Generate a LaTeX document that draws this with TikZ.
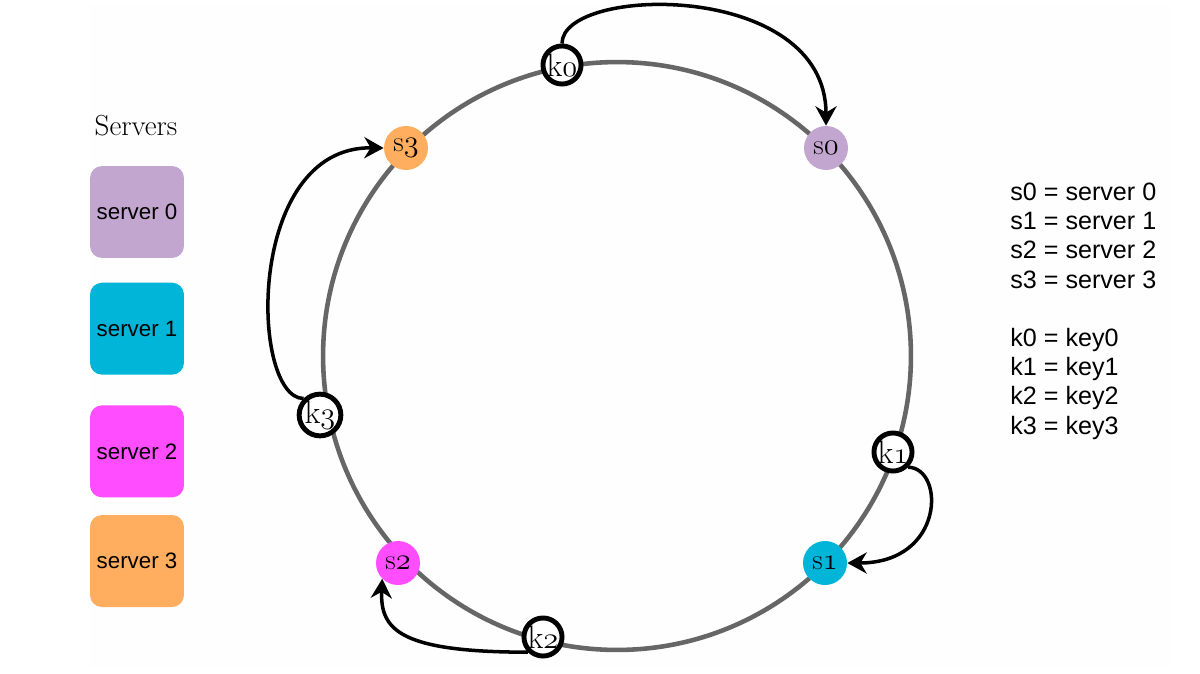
\documentclass[tikz,border=0pt]{standalone}
\usepackage{fontspec}
\newfontfamily\legendfont{Liberation Sans}
\usetikzlibrary{positioning,arrows.meta}

\definecolor{srvzero}{HTML}{C3A6CF}
\definecolor{srvone}{HTML}{00B5D8}
\definecolor{srvtwo}{HTML}{FF4DFF}
\definecolor{srvthree}{HTML}{FFAD5E}
\definecolor{ringgray}{HTML}{666666}

% old style figures from the math italic font
\newcommand{\oldfig}[1]{{\usefont{OML}{cmm}{m}{it}#1}}

\begin{document}
\begin{tikzpicture}[
    x=0.02cm, y=-0.02cm,
    server/.style={
        circle,
        minimum size=0.88cm,
        inner sep=0pt,
        font=\fontsize{16.5}{19}\selectfont
    },
    key/.style={
        circle,
        draw=black,
        line width=2.8pt,
        fill=white,
        minimum size=0.72cm,
        inner sep=0pt,
        font=\fontsize{18.5}{21}\selectfont
    },
    legendbox/.style={
        rectangle,
        rounded corners=0.24cm,
        minimum width=1.88cm,
        minimum height=1.84cm,
        font=\legendfont\fontsize{12.7}{15}\selectfont
    },
    arrow/.style={
        -{Stealth[length=11pt,width=12pt]},
        line width=2pt,
        black
    }
]

% Background
\fill[white] (0,0) rectangle (1200,673);
\fill[black!0.5] (90,5) rectangle (1170,668);
\useasboundingbox (0,0) rectangle (1200,673);

% Legend of servers
\node[font=\fontsize{16.5}{19}\selectfont] (title) at (136,126) {Servers};
\node[legendbox, fill=srvzero] (box0) at (137,212) {server 0};
\node[legendbox, fill=srvone, below=0.48cm of box0] (box1) {server 1};
\node[legendbox, fill=srvtwo, below=0.6cm of box1] (box2) {server 2};
\node[legendbox, fill=srvthree, below=0.34cm of box2] (box3) {server 3};

% Hash ring
\node[circle, draw=ringgray, line width=2.6pt, minimum size=11.76cm, inner sep=0pt] (ring) at (617,356) {};

% Servers on the ring
\node[server, fill=srvzero] (s0) at (826,148) {s\oldfig{0}};
\node[server, fill=srvone] (s1) at (825,563) {s\oldfig{1}};
\node[server, fill=srvtwo] (s2) at (398,563) {s\oldfig{2}};
\node[server, fill=srvthree] (s3) at (406,148) {s\oldfig{3}};

% Keys on the ring
\node[key] (k0) at (562,65) {k\oldfig{0}};
\node[key] (k1) at (893,452) {k\oldfig{1}};
\node[key] (k2) at (543,637) {k\oldfig{2}};
\node[key] (k3) at (320,415) {k\oldfig{3}};

% Arrows
\draw[arrow] (k0.north) .. controls (562,-15) and (826,-20) .. (s0.north);
\draw[arrow] (k1.south east) .. controls (945,468) and (945,563) .. (s1.east);
\draw[arrow] (k2.south west) .. controls (400,652) and (380,630) .. (s2.south west);
\draw[arrow] (k3.north west) .. controls (250,398) and (245,146) .. (s3.west);

% Legend of names
\node[font=\legendfont\fontsize{14.3}{16.55}\selectfont, align=left, anchor=base west, inner sep=0pt] (smap) at (1010,288)
    {s0 = server 0\\ s1 = server 1\\ s2 = server 2\\ s3 = server 3};
\node[font=\legendfont\fontsize{14.3}{16.55}\selectfont, align=left, anchor=base west, inner sep=0pt] (kmap) at (1010,434)
    {k0 = key0\\ k1 = key1\\ k2 = key2\\ k3 = key3};

\end{tikzpicture}
\end{document}
